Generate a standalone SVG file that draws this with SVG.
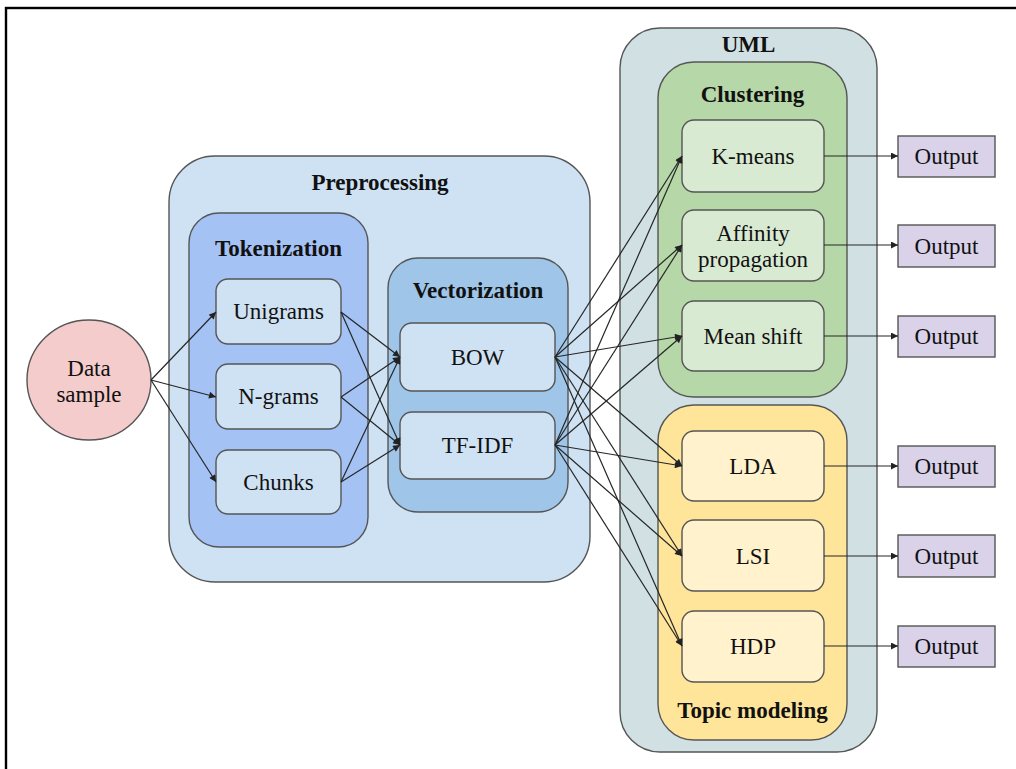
<svg xmlns="http://www.w3.org/2000/svg" width="1016" height="769" viewBox="0 0 1016 769">
<defs>
<marker id="ah" viewBox="0 0 10 10" refX="10" refY="5" markerWidth="8" markerHeight="7" markerUnits="userSpaceOnUse" orient="auto">
<path d="M0,0 L10,5 L0,10 z" fill="#222"/>
</marker>
<style>
.box{stroke:#555;stroke-width:1.4}
.t{font-family:"Liberation Serif","Times New Roman",serif;font-size:23px;fill:#111;text-anchor:middle}
.b{font-weight:bold}
.c{fill:none;stroke:#262626;stroke-width:1.2;marker-end:url(#ah)}
</style>
</defs>
<rect x="0" y="0" width="1016" height="769" fill="#fff"/>
<rect x="6" y="8" width="1030" height="790" fill="none" stroke="#000" stroke-width="2.4"/>

<g id="preprocessing">
<rect class="box" x="169" y="156" width="421" height="426" rx="46" fill="#cfe2f3"/>
<text class="t b" x="380" y="190">Preprocessing</text>
</g>
<g id="tokenization">
<rect class="box" x="189" y="213" width="179" height="334" rx="30" fill="#a4c2f4"/>
<text class="t b" x="278.5" y="256">Tokenization</text>
</g>
<g id="vectorization">
<rect class="box" x="388" y="258" width="180" height="254" rx="30" fill="#9fc5e8"/>
<text class="t b" x="478" y="298">Vectorization</text>
</g>
<g id="uml">
<rect class="box" x="620" y="28" width="257" height="724" rx="40" fill="#d0e0e3"/>
<text class="t b" x="748.5" y="52">UML</text>
</g>
<g id="clustering">
<rect class="box" x="658" y="62" width="189" height="335" rx="36" fill="#b6d7a8"/>
<text class="t b" x="752.5" y="102">Clustering</text>
</g>
<g id="topic-modeling">
<rect class="box" x="658" y="405" width="189" height="335" rx="36" fill="#ffe599"/>
<text class="t b" x="752.5" y="718">Topic modeling</text>
</g>

<g id="data-sample">
<ellipse class="box" cx="89" cy="380" rx="62" ry="60" fill="#f4cccc"/>
<text class="t" x="89" y="376">Data</text>
<text class="t" x="89" y="402">sample</text>
</g>

<g id="unigrams"><rect class="box" x="216" y="279" width="125" height="65" rx="12" fill="#cfe2f3"/><text class="t" x="278.5" y="319">Unigrams</text></g>
<g id="ngrams"><rect class="box" x="216" y="364" width="125" height="65" rx="12" fill="#cfe2f3"/><text class="t" x="278.5" y="404">N-grams</text></g>
<g id="chunks"><rect class="box" x="216" y="450" width="125" height="64" rx="12" fill="#cfe2f3"/><text class="t" x="278.5" y="490">Chunks</text></g>

<g id="bow"><rect class="box" x="400" y="323" width="155" height="68" rx="12" fill="#cfe2f3"/><text class="t" x="477.5" y="365">BOW</text></g>
<g id="tfidf"><rect class="box" x="400" y="412" width="155" height="67" rx="12" fill="#cfe2f3"/><text class="t" x="477.5" y="453">TF-IDF</text></g>

<g id="kmeans"><rect class="box" x="682" y="120" width="142" height="72" rx="12" fill="#d9ead3"/><text class="t" x="753" y="164">K-means</text></g>
<g id="affinity"><rect class="box" x="682" y="210" width="142" height="71" rx="12" fill="#d9ead3"/><text class="t" x="753" y="241">Affinity</text><text class="t" x="753" y="267">propagation</text></g>
<g id="meanshift"><rect class="box" x="682" y="301" width="142" height="70" rx="12" fill="#d9ead3"/><text class="t" x="753" y="344">Mean shift</text></g>

<g id="lda"><rect class="box" x="682" y="431" width="142" height="70" rx="12" fill="#fff2cc"/><text class="t" x="753" y="474">LDA</text></g>
<g id="lsi"><rect class="box" x="682" y="520" width="142" height="71" rx="12" fill="#fff2cc"/><text class="t" x="753" y="564">LSI</text></g>
<g id="hdp"><rect class="box" x="682" y="611" width="142" height="71" rx="12" fill="#fff2cc"/><text class="t" x="753" y="654">HDP</text></g>

<g id="output1"><rect class="box" x="898" y="136" width="97" height="41" fill="#d9d2e9"/><text class="t" x="946.5" y="164">Output</text></g>
<g id="output2"><rect class="box" x="898" y="225" width="97" height="42" fill="#d9d2e9"/><text class="t" x="946.5" y="254">Output</text></g>
<g id="output3"><rect class="box" x="898" y="316" width="97" height="41" fill="#d9d2e9"/><text class="t" x="946.5" y="344">Output</text></g>
<g id="output4"><rect class="box" x="898" y="446" width="97" height="41" fill="#d9d2e9"/><text class="t" x="946.5" y="474">Output</text></g>
<g id="output5"><rect class="box" x="898" y="535" width="97" height="42" fill="#d9d2e9"/><text class="t" x="946.5" y="564">Output</text></g>
<g id="output6"><rect class="box" x="898" y="626" width="97" height="41" fill="#d9d2e9"/><text class="t" x="946.5" y="654">Output</text></g>

<g id="connectors">
<line class="c" x1="151" y1="380" x2="216" y2="312"/>
<line class="c" x1="151" y1="380" x2="216" y2="397"/>
<line class="c" x1="151" y1="380" x2="216" y2="482"/>

<line class="c" x1="341" y1="312" x2="400" y2="357"/>
<line class="c" x1="341" y1="312" x2="400" y2="445"/>
<line class="c" x1="341" y1="397" x2="400" y2="357"/>
<line class="c" x1="341" y1="397" x2="400" y2="445"/>
<line class="c" x1="341" y1="482" x2="400" y2="357"/>
<line class="c" x1="341" y1="482" x2="400" y2="445"/>

<line class="c" x1="555" y1="357" x2="682" y2="156"/>
<line class="c" x1="555" y1="357" x2="682" y2="245"/>
<line class="c" x1="555" y1="357" x2="682" y2="336"/>
<line class="c" x1="555" y1="357" x2="682" y2="466"/>
<line class="c" x1="555" y1="357" x2="682" y2="556"/>
<line class="c" x1="555" y1="357" x2="682" y2="646"/>
<line class="c" x1="555" y1="445" x2="682" y2="156"/>
<line class="c" x1="555" y1="445" x2="682" y2="245"/>
<line class="c" x1="555" y1="445" x2="682" y2="336"/>
<line class="c" x1="555" y1="445" x2="682" y2="466"/>
<line class="c" x1="555" y1="445" x2="682" y2="556"/>
<line class="c" x1="555" y1="445" x2="682" y2="646"/>

<line class="c" x1="824" y1="156" x2="898" y2="156"/>
<line class="c" x1="824" y1="245" x2="898" y2="245"/>
<line class="c" x1="824" y1="336" x2="898" y2="336"/>
<line class="c" x1="824" y1="466" x2="898" y2="466"/>
<line class="c" x1="824" y1="556" x2="898" y2="556"/>
<line class="c" x1="824" y1="646" x2="898" y2="646"/>
</g>
</svg>
